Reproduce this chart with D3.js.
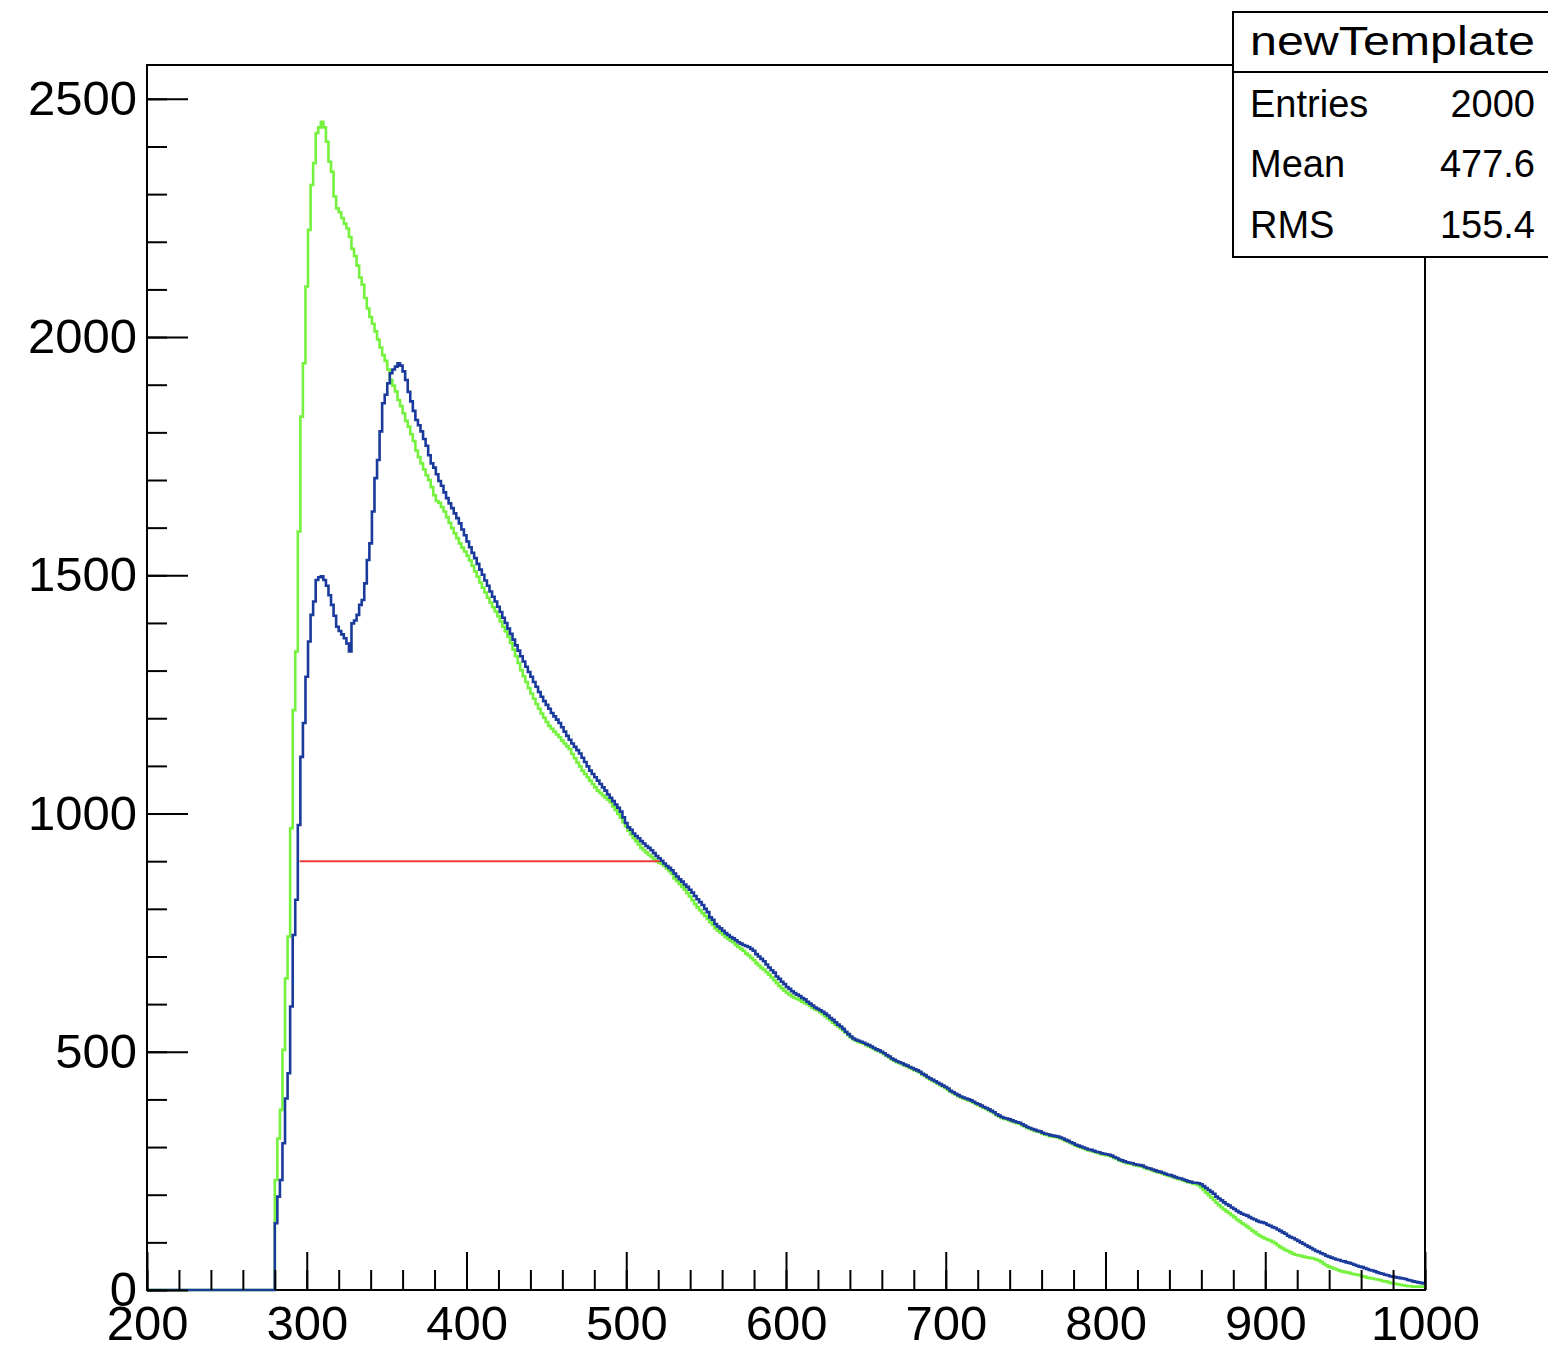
<!DOCTYPE html>
<html>
<head>
<meta charset="utf-8">
<script src="https://cdn.jsdelivr.net/npm/d3@7"></script>
<style>
  html, body { margin: 0; padding: 0; background: #fff; }
  svg { display: block; }
</style>
</head>
<body>
<svg id="chart" width="1548" height="1347"></svg>
<script>
// Histogram binning: 500 bins of width 1.6 over [200, 1000]; bins below 280 are empty.
const xRange = [200, 1000];
const yTop = 2571;
const binStart = 280;
const binWidth = 1.6;

// Bin contents from x = 280 upward, one value per bin.
const blueCounts = [
  140,196,231,308,402,455,595,745,819,976,
  1119,1190,1287,1361,1417,1445,1490,1496,1498,1490,
  1478,1458,1438,1415,1392,1383,1376,1368,1357,1340,
  1399,1405,1417,1438,1448,1483,1532,1567,1634,1704,
  1742,1802,1861,1879,1903,1924,1932,1938,1945,1940,
  1928,1910,1885,1865,1845,1826,1815,1802,1786,1772,
  1752,1735,1726,1712,1698,1688,1674,1662,1651,1641,
  1630,1620,1609,1596,1584,1571,1559,1547,1536,1524,
  1512,1501,1489,1478,1466,1455,1445,1434,1423,1411,
  1400,1388,1377,1365,1353,1342,1330,1319,1308,1297,
  1287,1276,1266,1255,1245,1236,1228,1220,1211,1204,
  1197,1190,1181,1172,1163,1155,1147,1140,1133,1126,
  1117,1108,1099,1090,1083,1076,1069,1062,1055,1048,
  1040,1033,1026,1019,1012,1004,992,980,971,966,
  958,953,948,942,937,932,928,923,917,911,
  906,901,895,890,886,881,874,868,862,857,
  851,846,840,834,827,820,814,808,800,793,
  782,777,768,763,759,754,749,745,741,738,
  734,730,727,724,722,720,716,712,705,700,
  695,690,683,677,671,666,658,653,647,642,
  636,632,627,623,620,617,613,610,605,601,
  597,593,590,587,584,580,576,571,567,562,
  557,553,548,542,537,532,528,525,523,521,
  519,516,514,511,508,505,503,500,497,493,
  490,486,483,480,478,476,473,471,468,466,
  463,461,458,454,451,447,444,441,438,435,
  432,429,426,423,418,415,412,409,406,404,
  402,400,398,395,392,390,387,384,382,379,
  376,373,369,366,363,361,360,358,356,354,
  352,351,348,345,342,340,338,336,334,333,
  330,328,327,325,324,323,322,320,318,315,
  313,310,308,305,303,301,299,297,295,294,
  292,290,289,287,286,285,284,282,279,277,
  274,272,270,268,267,266,264,263,262,261,
  258,256,255,253,251,249,248,246,244,242,
  241,239,237,235,234,232,230,228,227,225,
  225,224,222,218,214,210,206,202,196,192,
  188,184,180,177,173,170,166,163,160,158,
  156,153,150,148,145,143,142,140,137,135,
  132,130,127,124,121,118,114,111,109,106,
  103,100,97,94,91,88,85,82,80,77,
  75,72,70,68,66,64,63,61,60,58,
  57,55,53,51,49,48,46,44,42,41,
  39,37,35,34,32,31,29,28,27,26,
  25,24,23,21,20,18,17,16,15,14
];

const greenCounts = [
  231,318,378,504,654,742,969,1217,1340,1592,
  1833,1945,2106,2225,2319,2365,2428,2440,2452,2440,
  2410,2368,2347,2295,2270,2262,2250,2238,2228,2210,
  2185,2170,2150,2125,2110,2082,2060,2042,2028,2012,
  1995,1978,1962,1950,1932,1910,1898,1886,1868,1855,
  1840,1824,1812,1796,1782,1762,1748,1735,1722,1710,
  1700,1685,1668,1656,1652,1643,1634,1622,1610,1599,
  1588,1578,1567,1558,1550,1541,1531,1520,1508,1497,
  1485,1474,1464,1453,1443,1433,1424,1414,1403,1392,
  1382,1371,1358,1344,1330,1316,1301,1288,1276,1263,
  1252,1241,1230,1220,1210,1201,1192,1184,1178,1172,
  1166,1160,1153,1147,1141,1135,1125,1116,1107,1099,
  1090,1083,1076,1069,1062,1055,1048,1043,1038,1033,
  1029,1024,1015,1007,999,991,982,973,964,956,
  949,942,935,928,923,918,913,909,904,900,
  897,894,890,885,879,873,864,858,852,846,
  840,833,826,818,810,803,797,791,785,779,
  772,766,759,754,750,746,741,737,733,730,
  724,720,716,712,706,702,697,692,686,681,
  676,672,667,662,656,650,644,638,633,628,
  624,620,616,613,611,608,605,602,600,596,
  592,589,587,583,579,574,570,566,561,557,
  553,549,545,540,535,530,526,523,520,519,
  517,514,511,509,506,503,501,498,495,491,
  488,484,481,478,476,474,471,469,466,464,
  461,459,456,452,449,445,442,439,436,433,
  430,427,424,420,416,413,410,407,404,402,
  400,398,396,393,390,388,385,382,380,377,
  374,371,367,364,361,359,358,356,354,352,
  350,349,346,343,340,338,336,334,332,331,
  328,326,325,323,322,321,320,318,316,313,
  311,308,306,303,301,299,297,295,293,292,
  290,288,287,285,284,283,282,280,277,275,
  272,270,268,266,265,264,262,261,260,259,
  256,254,253,251,249,247,246,244,242,240,
  239,237,235,233,232,230,228,226,225,223,
  222,220,215,210,204,199,194,189,183,178,
  173,169,165,161,157,153,148,144,140,137,
  133,129,125,121,117,114,111,108,106,104,
  101,98,94,90,87,84,82,79,76,74,
  73,72,70,69,68,67,66,64,62,59,
  55,52,49,47,45,43,41,39,38,37,
  36,34,33,32,31,29,28,26,25,24,
  23,22,21,19,18,17,15,14,13,12,
  11,10,9,8,8,7,7,7,7,7
];

// Horizontal marker at a fixed level.
const markerLevel = 900;
const markerFrom = 295.5;
const markerTo = 521;

// Axis ticks.
const xMajorTicks = d3.range(200, 1001, 100);
const xMinorTicks = d3.range(200, 1001, 20);
const yMajorTicks = d3.range(0, 2501, 500);
const yMinorTicks = d3.range(0, 2501, 100);

// Statistics box.
const statsTitle = "newTemplate";
const statsRows = [["Entries", "2000"], ["Mean", "477.6"], ["RMS", "155.4"]];

const frame = { left: 147, right: 1425, top: 65, bottom: 1290 };
const font = "'Liberation Sans', Arial, Helvetica, sans-serif";

const svg = d3.select("#chart");
const x = d3.scaleLinear().domain(xRange).range([frame.left, frame.right]);
const y = d3.scaleLinear().domain([0, yTop]).range([frame.bottom, frame.top]);

// Frame
svg.append("rect")
  .attr("x", frame.left).attr("y", frame.top)
  .attr("width", frame.right - frame.left).attr("height", frame.bottom - frame.top)
  .attr("fill", "#fff").attr("stroke", "#000").attr("stroke-width", 2);

// Step outline of a histogram: empty from xRange[0] up to binStart, then one step per bin.
function histPoints(counts) {
  const pts = [[xRange[0], 0]];
  counts.forEach((c, i) => pts.push([binStart + i * binWidth, c]));
  pts.push([binStart + counts.length * binWidth, counts[counts.length - 1]]);
  return pts;
}
const stepLine = d3.line()
  .x(d => x(d[0]))
  .y(d => y(d[1]))
  .curve(d3.curveStepAfter);

svg.append("path")
  .attr("d", stepLine(histPoints(greenCounts)))
  .attr("fill", "none").attr("stroke", "#74f23e").attr("stroke-width", 2.6);

svg.append("path")
  .attr("d", stepLine(histPoints(blueCounts)))
  .attr("fill", "none").attr("stroke", "#1a3a9c").attr("stroke-width", 2.6);

svg.append("line")
  .attr("x1", x(markerFrom)).attr("x2", x(markerTo))
  .attr("y1", y(markerLevel)).attr("y2", y(markerLevel))
  .attr("stroke", "#ee3b3b").attr("stroke-width", 2);

// Axes (ticks point into the frame)
function styleAxis(g) {
  g.select(".domain").remove();
  g.selectAll(".tick line").attr("stroke", "#000").attr("stroke-width", 2);
  g.selectAll("text").attr("font-family", font).attr("font-size", 49).attr("fill", "#000");
}

svg.append("g")
  .attr("transform", `translate(0,${frame.bottom})`)
  .call(d3.axisBottom(x).tickValues(xMinorTicks).tickSize(-20).tickFormat(""))
  .call(styleAxis);
svg.append("g")
  .attr("transform", `translate(0,${frame.bottom})`)
  .call(d3.axisBottom(x).tickValues(xMajorTicks).tickSize(-38).tickPadding(15).tickFormat(d3.format("d")))
  .call(styleAxis);

svg.append("g")
  .attr("transform", `translate(${frame.left},0)`)
  .call(d3.axisLeft(y).tickValues(yMinorTicks).tickSize(-20).tickFormat(""))
  .call(styleAxis);
svg.append("g")
  .attr("transform", `translate(${frame.left},0)`)
  .call(d3.axisLeft(y).tickValues(yMajorTicks).tickSize(-41).tickPadding(10).tickFormat(d3.format("d")))
  .call(styleAxis);

// Statistics box
const box = { left: 1233, top: 12, bottom: 257, sep: 72, right: 1548 };
const stats = svg.append("g");
stats.append("rect")
  .attr("x", box.left).attr("y", box.top)
  .attr("width", box.right + 10 - box.left).attr("height", box.bottom - box.top)
  .attr("fill", "#fff").attr("stroke", "#000").attr("stroke-width", 2);
stats.append("line")
  .attr("x1", box.left).attr("x2", box.right + 10)
  .attr("y1", box.sep).attr("y2", box.sep)
  .attr("stroke", "#000").attr("stroke-width", 2);
stats.append("text")
  .attr("x", 1250).attr("y", 55)
  .attr("textLength", 285).attr("lengthAdjust", "spacingAndGlyphs")
  .attr("font-family", font).attr("font-size", 40)
  .text(statsTitle);
const rowBaselines = [117, 177, 238];
statsRows.forEach(([label, value], i) => {
  stats.append("text")
    .attr("x", 1250).attr("y", rowBaselines[i])
    .attr("font-family", font).attr("font-size", 38)
    .text(label);
  stats.append("text")
    .attr("x", 1535).attr("y", rowBaselines[i])
    .attr("text-anchor", "end")
    .attr("font-family", font).attr("font-size", 38)
    .text(value);
});
</script>
</body>
</html>
